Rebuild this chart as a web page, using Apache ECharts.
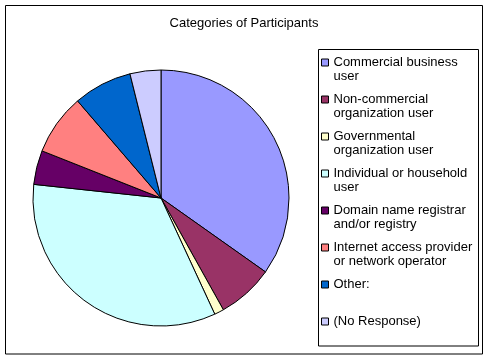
<!DOCTYPE html>
<html>
<head>
<meta charset="utf-8">
<script src="https://cdn.jsdelivr.net/npm/echarts@6/dist/echarts.min.js"></script>
<style>
html,body{margin:0;padding:0;background:#fff;}
#chart{width:488px;height:359px;}
</style>
</head>
<body>
<div id="chart"></div>
<script>
const titleText = 'Categories of Participants';
const categories = [
  'Commercial business\nuser',
  'Non-commercial\norganization user',
  'Governmental\norganization user',
  'Individual or household\nuser',
  'Domain name registrar\nand/or registry',
  'Internet access provider\nor network operator',
  'Other:\n',
  '(No Response)\n'
];
const values = [34.8, 7.1, 1.2, 33.6, 4.3, 7.7, 7.4, 3.9];
const colors = ['#9999FF', '#993366', '#FFFFCC', '#CCFFFF', '#660066', '#FF8080', '#0066CC', '#CCCCFF'];

const FONT = "'Liberation Sans', Arial, sans-serif";
const chart = echarts.init(document.getElementById('chart'), null, {renderer: 'canvas'});
const data = categories.map((c, i) => ({name: c, value: values[i], itemStyle: {color: colors[i]}}));

chart.setOption({
  animation: false,
  title: {
    text: titleText,
    left: 'center',
    top: 16,
    padding: 0,
    textStyle: {fontFamily: FONT, fontSize: 13, fontWeight: 'normal', color: '#000', lineHeight: 15}
  },
  legend: {
    orient: 'vertical',
    left: 321,
    top: 55.5,
    padding: 0,
    itemGap: 9,
    itemWidth: 7,
    itemHeight: 21,
    itemTextGap: 13,
    selectedMode: false,
    icon: 'path://M0,0L7,0L7,7L0,7Z M0,21',
    itemStyle: {borderColor: '#000', borderWidth: 1},
    textStyle: {fontFamily: FONT, fontSize: 13, color: '#000', lineHeight: 14},
    data: categories
  },
  graphic: [
    {type: 'rect', z: -1, shape: {x: 5.5, y: 5.5, width: 477, height: 348.5}, style: {fill: 'none', stroke: '#000', lineWidth: 1}},
    {type: 'rect', z: -1, shape: {x: 318.5, y: 49.5, width: 160, height: 296.5}, style: {fill: 'none', stroke: '#000', lineWidth: 1}}
  ],
  series: [{
    type: 'pie',
    center: [161, 198],
    radius: 128,
    startAngle: 90,
    clockwise: true,
    label: {show: false},
    labelLine: {show: false},
    emphasis: {disabled: true},
    itemStyle: {borderColor: '#000', borderWidth: 1},
    data: data
  }]
});
</script>
</body>
</html>
